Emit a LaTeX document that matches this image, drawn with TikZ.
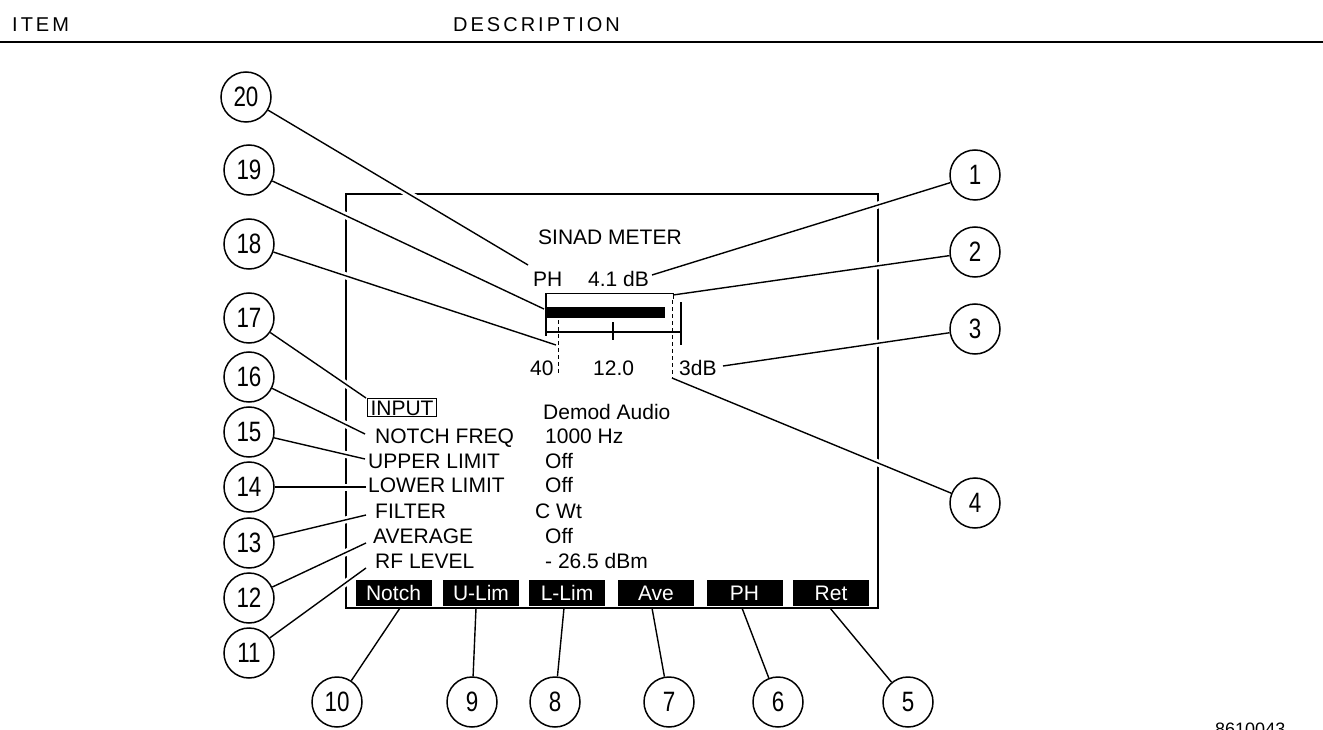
\documentclass[tikz,border=0pt]{standalone}
\usepackage{fontspec}
\setmainfont{Liberation Sans}
\newfontfamily\circfont{Liberation Sans}[FakeStretch=0.8]
\newfontfamily\hdrfont{Liberation Sans}[LetterSpace=15]
\begin{document}
\begin{tikzpicture}[x=1pt,y=-1pt,
  num/.style={circle, draw, line width=1.5pt, minimum size=50pt, inner sep=0pt,
    font=\circfont\fontsize{28}{28}\selectfont},
  lead/.style={line width=1.4pt,
    preaction={draw=white, line width=7pt, shorten <=10pt, shorten >=10pt}},
  lbl/.style={anchor=base west, inner sep=0pt, font=\fontsize{21}{21}\selectfont},
  keybox/.style={fill=black, text=white, minimum width=76pt, minimum height=26pt,
    inner sep=0pt, font=\fontsize{21}{21}\selectfont},
  hdr/.style={anchor=base west, inner sep=0pt, font=\hdrfont\fontsize{20}{20}\selectfont},
  dsh/.style={line width=1pt, dash pattern=on 4pt off 3pt}]
\useasboundingbox (0,0) rectangle (1323,730);

% header
\node[hdr] (hitem) at (12,32) {ITEM};
\node[hdr] (hdesc) at (453,32) {DESCRIPTION};
\draw[line width=2pt] (0,42) -- (1323,42);
\node[anchor=base west, inner sep=0pt, font=\fontsize{18}{18}\selectfont] (fig) at (1215,735) {8610043};

% screen frame
\draw[line width=1.5pt] (346,194) rectangle (878,608);

% meter
\node[lbl] (title) at (538,245) {SINAD METER};
\node[lbl] (ph) at (533,287) {PH};
\node[lbl] (val) at (588,287) {4.1 dB};
\draw[line width=0.8pt] (546,293) -- (673,293) -- (673,299);
\draw[line width=1.2pt] (546,293) -- (546,336);
\fill (546,307) rectangle (665,318);
\draw[line width=1.2pt] (546,332) -- (681,332);
\draw[line width=1.2pt] (613,322) -- (613,340);
\draw[line width=1.2pt] (681,302) -- (681,345);
\draw[dsh] (558,320) -- (558,373);
\draw[dsh] (672,300) -- (672,378);
\node[lbl] (l40) at (530,375) {40};
\node[lbl] (l12) at (593,375) {12.0};
\node[lbl] (l3) at (679,375) {3dB};

% parameter list
\node[lbl, draw, line width=1pt, inner xsep=3pt, inner ysep=1.5pt, text height=15pt, text depth=0pt] (input) at (367,415) {INPUT};
\node[lbl] (notch) at (375,443) {NOTCH FREQ};
\node[lbl] (upper) at (368,468) {UPPER LIMIT};
\node[lbl] (lower) at (368,492) {LOWER LIMIT};
\node[lbl] (filter) at (375,518) {FILTER};
\node[lbl] (avg) at (373,543) {AVERAGE};
\node[lbl] (rf) at (375,568) {RF LEVEL};
\node[lbl] (v1) at (543,419) {Demod Audio};
\node[lbl] (v2) at (545,443) {1000 Hz};
\node[lbl] (v3) at (545,468) {Off};
\node[lbl] (v4) at (545,492) {Off};
\node[lbl] (v5) at (535,518) {C Wt};
\node[lbl] (v6) at (545,543) {Off};
\node[lbl] (v7) at (545,568) {- 26.5 dBm};

% softkeys
\node[keybox] (k1) at (393.5,593) {Notch};
\node[keybox] (k2) at (481,593) {U-Lim};
\node[keybox] (k3) at (567,593) {L-Lim};
\node[keybox] (k4) at (656,593) {Ave};
\node[keybox] (k5) at (744.5,593) {PH};
\node[keybox] (k6) at (831,593) {Ret};

% leader end points
\coordinate (e20) at (528,265);
\coordinate (e19) at (544,309);
\coordinate (e18) at (556,345);
\coordinate (e17) at (366,398);
\coordinate (e16) at (365,434);
\coordinate (e15) at (365,459);
\coordinate (e14) at (366,487);
\coordinate (e13) at (366,515);
\coordinate (e12) at (366,543);
\coordinate (e11) at (366,568);
\coordinate (e1) at (652,275);
\coordinate (e2) at (673,295);
\coordinate (e3) at (723,366);
\coordinate (e4) at (672,378);
\coordinate (s10) at (400,608);
\coordinate (s9) at (476,608);
\coordinate (s8) at (564,608);
\coordinate (s7) at (652,608);
\coordinate (s6) at (742,608);
\coordinate (s5) at (830,608);

% callout circles
\node[num] (c20) at (246,97) {20};
\node[num] (c19) at (249,170) {19};
\node[num] (c18) at (249,244) {18};
\node[num] (c17) at (249,318) {17};
\node[num] (c16) at (249,377) {16};
\node[num] (c15) at (249,432) {15};
\node[num] (c14) at (249,487) {14};
\node[num] (c13) at (249,543) {13};
\node[num] (c12) at (249,598) {12};
\node[num] (c11) at (249,653) {11};
\node[num] (c1) at (975,175) {1};
\node[num] (c2) at (975,252) {2};
\node[num] (c3) at (975,329) {3};
\node[num] (c4) at (975,503) {4};
\node[num] (c10) at (337,702) {10};
\node[num] (c9) at (472,702) {9};
\node[num] (c8) at (555,702) {8};
\node[num] (c7) at (669,702) {7};
\node[num] (c6) at (778,702) {6};
\node[num] (c5) at (908,702) {5};

% leaders
\foreach \n in {20,19,18,17,16,15,14,13,12,11,1,2,3,4}
  \draw[lead] (c\n) -- (e\n);
\foreach \n in {10,9,8,7,6,5}
  \draw[lead] (s\n) -- (c\n);
\end{tikzpicture}
\end{document}
